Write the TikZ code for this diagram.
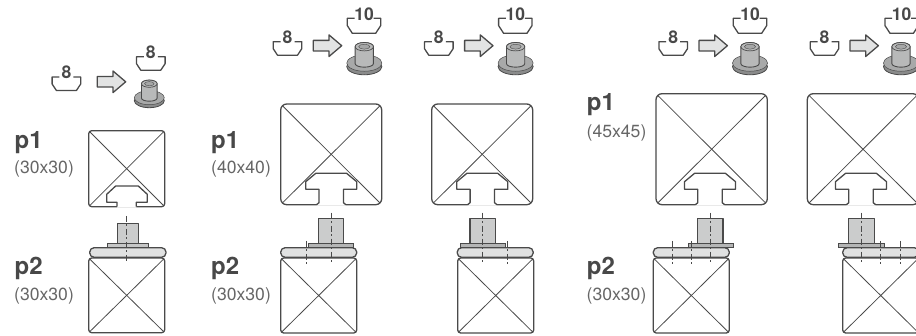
\documentclass[tikz,border=0pt]{standalone}
\usepackage{fontspec}
\setmainfont{TeX Gyre Heros}
\definecolor{ln}{HTML}{4A4A4A}
\definecolor{txd}{HTML}{484848}
\definecolor{txl}{HTML}{666666}
\definecolor{af}{HTML}{E2E3E3}
\definecolor{studf}{HTML}{CBCCCC}
\definecolor{platef}{HTML}{E0E1E1}
\definecolor{smallf}{HTML}{B4B5B5}
\definecolor{baseA}{HTML}{8A8B8B}
\definecolor{baseB}{HTML}{A8A9A9}
\definecolor{cylf}{HTML}{B8B9B9}
\definecolor{holef}{HTML}{A6A7A7}
\tikzset{
 lnn/.style={draw=ln,line width=1.3pt,line join=round},
 thin diag/.style={draw=ln,line width=.8pt},
 cl/.style={draw=ln,line width=.7pt,dash pattern=on 6pt off 2.5pt on 2pt off 2.5pt},
 bigt/.style={font=\fontsize{24}{26}\selectfont\bfseries,text=txd,anchor=base west,inner sep=0pt},
 subt/.style={font=\fontsize{17.6}{20}\selectfont,text=txl,anchor=base west,inner sep=0pt},
 nutt/.style={font=\fontsize{17.5}{19}\selectfont\bfseries,text=txd,anchor=center,inner sep=0pt},
}
% cx, top, label, node name
\newcommand{\nutE}[3]{%
 \draw[lnn] ({#1-7},#2) -- ({#1-14.3},#2) -- ({#1-14.3},{#2+7}) -- ({#1-10},{#2+13.5}) -- ({#1+10},{#2+13.5}) -- ({#1+14.3},{#2+7}) -- ({#1+14.3},#2) -- ({#1+7},#2);
 \node[nutt] (#3) at (#1,{#2-4.5}) {8};}
\newcommand{\nutT}[3]{%
 \draw[lnn] ({#1-9.5},#2) -- ({#1-16.7},#2) -- ({#1-16.7},{#2+7.3}) -- ({#1-11.7},{#2+15}) -- ({#1+11.7},{#2+15}) -- ({#1+16.7},{#2+7.3}) -- ({#1+16.7},#2) -- ({#1+9.5},#2);
 \node[nutt] (#3) at (#1,{#2-4.5}) {10};}
% x0, ymid
\newcommand{\blockarrow}[2]{%
 \draw[lnn,fill=af] (#1,{#2-5.3}) -- ({#1+15.7},{#2-5.3}) -- ({#1+15.7},{#2-10.8}) -- ({#1+28.4},#2) -- ({#1+15.7},{#2+10.8}) -- ({#1+15.7},{#2+5.3}) -- (#1,{#2+5.3}) -- cycle;}
% cx, cy, scale
\newcommand{\bolt}[3]{%
 \begin{scope}[shift={(#1,#2)},scale=#3,x=1pt,y=-1pt]
  \draw[draw=ln,line width=.8pt,fill=baseA] (0,17) ellipse [x radius=15,y radius=7];
  \draw[draw=ln,line width=.5pt,fill=baseB] (0,14) ellipse [x radius=15,y radius=7];
  \draw[draw=ln,line width=.9pt,fill=cylf] (-7.8,0) -- (-7.8,14.5) arc[start angle=180,end angle=0,x radius=7.8,y radius=3] -- (7.8,0) arc[start angle=0,end angle=-180,x radius=7.8,y radius=3.6] -- cycle;
  \draw[draw=ln,line width=.7pt,fill=cylf] (0,0) ellipse [x radius=7.8,y radius=3.6];
  \draw[draw=ln,line width=.4pt,fill=holef] (0,0) ellipse [x radius=4.8,y radius=2.1];
 \end{scope}}
% square x0,y0,x1,y1,r
\newcommand{\sqbox}[5]{%
 \draw[lnn,rounded corners=#5pt] (#1,#2) rectangle (#3,#4);
 \draw[thin diag] ({#1+.3*#5},{#2+.3*#5}) -- ({#3-.3*#5},{#4-.3*#5});
 \draw[thin diag] ({#3-.3*#5},{#2+.3*#5}) -- ({#1+.3*#5},{#4-.3*#5});}
% large slot: centre, bottom 204.7
\newcommand{\slotL}[1]{%
 \fill[white] ({#1-14.7},205.6) -- ({#1-12.2},202.7) -- ({#1-12.2},189.3) -- ({#1-25.5},189.3) -- ({#1-25.5},181.7) -- ({#1-15.4},173.3) -- ({#1+15.4},173.3) -- ({#1+25.5},181.7) -- ({#1+25.5},189.3) -- ({#1+12.2},189.3) -- ({#1+12.2},202.7) -- ({#1+14.7},205.6) -- cycle;
 \draw[lnn] ({#1-14.7},204.7) -- ({#1-12.2},202.7) -- ({#1-12.2},189.3) -- ({#1-25.5},189.3) -- ({#1-25.5},181.7) -- ({#1-15.4},173.3) -- ({#1+15.4},173.3) -- ({#1+25.5},181.7) -- ({#1+25.5},189.3) -- ({#1+12.2},189.3) -- ({#1+12.2},202.7) -- ({#1+14.7},204.7);}
% p2 assembly: plate x0, small x0, small x1, stud x0, stud x1, centre line x
\newcommand{\assembly}[6]{%
 \draw[lnn,fill=studf] (#4,218.7) rectangle (#5,243.5);
 \draw[lnn,rounded corners=4.4pt,fill=platef] (#1,247.7) rectangle ({#1+76},257.3);
 \draw[draw=ln,line width=1pt,fill=smallf] (#2,243.5) rectangle (#3,247.7);
 \draw[cl] (#6,212.7) -- (#6,264);}
\begin{document}
\begin{tikzpicture}[x=1pt,y=-1pt]
\useasboundingbox (0,0) rectangle (916,336);
\clip (0,0) rectangle (916,336);
% ---- column 1
\nutE{66.4}{77}{ca}
\blockarrow{97.3}{81.8}
\nutE{150.8}{56.7}{cb}
\bolt{149.3}{83.7}{1}
\node[bigt] (pa) at (14.5,148.3) {p1};
\node[subt] (pb) at (14,174) {(30x30)};
\sqbox{88.7}{130.7}{164.7}{206.7}{3}
\fill[white] (117,207.6) -- (117,202.3) -- (106.7,202.3) -- (106.7,194.3) -- (115.7,186) -- (138.3,186) -- (147.3,194.3) -- (147.3,202.3) -- (136.3,202.3) -- (136.3,207.6) -- cycle;
\draw[lnn] (117,206.7) -- (117,202.3) -- (106.7,202.3) -- (106.7,194.3) -- (115.7,186) -- (138.3,186) -- (147.3,194.3) -- (147.3,202.3) -- (136.3,202.3) -- (136.3,206.7);
\node[bigt] (pc) at (14.5,275) {p2};
\node[subt] (pd) at (14,300.7) {(30x30)};
\sqbox{88.7}{258}{164.7}{332.7}{3}
\draw[lnn,fill=studf] (117.7,223.7) rectangle (138.3,244);
\draw[draw=ln,line width=1pt,fill=smallf!60!platef] (107.3,244) rectangle (148.3,247.7);
\draw[lnn,rounded corners=4.4pt,fill=platef] (89.7,247.7) rectangle (166,257.3);
\draw[cl] (126.3,216) -- (126.3,262.7);
% ---- column 2
\nutE{287.5}{41.7}{da}
\blockarrow{313.3}{45.7}
\nutT{364}{18.3}{db}
\bolt{364.3}{46.7}{1.17}
\node[bigt] (qa) at (211,148.3) {p1};
\node[subt] (qb) at (211,174) {(40x40)};
\sqbox{280.7}{104}{381.7}{204.7}{6}
\slotL{331.2}
\node[bigt] (qc) at (211,275) {p2};
\node[subt] (qd) at (211,300.7) {(30x30)};
\sqbox{280.7}{258}{356.7}{333}{3}
\assembly{280.7}{308.3}{353.3}{318.3}{343.7}{331}
\draw[cl] (306,241) -- (306,264);
% ---- column 3
\nutE{438.8}{41.7}{ea}
\blockarrow{464.6}{45.7}
\nutT{515.3}{18.3}{eb}
\bolt{515.6}{46.7}{1.17}
\sqbox{431.7}{104}{532.7}{204.7}{6}
\slotL{482.3}
\sqbox{457.7}{258}{533.7}{333}{3}
\assembly{457.2}{460}{505.3}{470}{495.3}{482.3}
\draw[cl] (507.3,241) -- (507.3,264);
% ---- column 4
\nutE{673.2}{41.7}{fa}
\blockarrow{699}{45.7}
\nutT{750}{18.3}{fb}
\bolt{750}{46.7}{1.17}
\node[bigt] (ra) at (586.7,111) {p1};
\node[subt] (rb) at (586.5,137.7) {(45x45)};
\sqbox{656}{93.7}{767.3}{204.7}{6}
\slotL{710}
\node[bigt] (rc) at (586.7,275) {p2};
\node[subt] (rd) at (586.5,300.7) {(30x30)};
\sqbox{653.3}{258}{729.3}{333}{3}
\assembly{653.3}{688.3}{733.3}{697.7}{723}{710}
\draw[cl] (672.3,241) -- (672.3,264);
\draw[cl] (691,241) -- (691,264);
% ---- column 5
\nutE{824.5}{41.7}{ga}
\blockarrow{850}{45.7}
\nutT{901.7}{18.3}{gb}
\bolt{901}{46.7}{1.17}
\sqbox{807.3}{93.7}{918.7}{204.7}{6}
\slotL{861}
\sqbox{842.7}{258}{918.7}{333}{3}
\assembly{842.7}{838.3}{884.3}{848.3}{874.3}{861.7}
\draw[cl] (880,241) -- (880,264);
\draw[cl] (900.3,241) -- (900.3,264);
\end{tikzpicture}
\end{document}
